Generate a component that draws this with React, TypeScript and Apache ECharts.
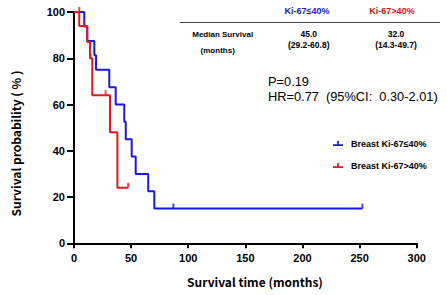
import React, { useEffect, useRef } from "react";
import * as echarts from "echarts";

// Kaplan-Meier steps: time of drop (months) and survival (%) after the drop
const blueTimes = [0, 9, 11.6, 17.8, 19.3, 30.9, 36.5, 44, 45.3, 50.5, 54, 65, 70.3, 252.5];
const blueSurv = [100, 93.75, 87.5, 81.25, 75, 67.5, 60, 52.5, 45, 37.5, 30, 22.5, 15, 15];
const redTimes = [0, 4.6, 11.6, 14, 16, 31.5, 38, 47.5];
const redSurv = [100, 94, 87, 80, 64, 48, 24, 24];

// censored observations
const blueCensorTimes = [87, 252.5];
const blueCensorSurv = [15, 15];
const redCensorTimes = [4.6, 9, 14.5, 27.7, 47.5];
const redCensorSurv = [100, 94, 80, 64, 24];

const seriesNames = ["Breast Ki-67≤40%", "Breast Ki-67>40%"];
const groupLabels = ["Ki-67≤40%", "Ki-67>40%"];
const medianValues = ["45.0", "32.0"];
const medianCIs = ["(29.2-60.8)", "(14.3-49.7)"];
const pText = "P=0.19";
const hrText = "HR=0.77  (95%CI:  0.30-2.01)";

const BLUE = "#1818e0";
const RED = "#e8161e";
const TICK_FONT = "Liberation Sans";
const TITLE_FONT = "Noto Sans CJK SC";

const legendIcon = "path://M0,4 L12,4 L12,6 L0,6 Z M5,0 L7,0 L7,4 L5,4 Z";

function zip(a: number[], b: number[]) {
  return a.map((v, i) => [v, b[i]]);
}

export default function App() {
  const ref = useRef<HTMLDivElement>(null);
  useEffect(() => {
    const chart = echarts.init(ref.current!, null, { renderer: "svg" });
    const txt = (
      text: string,
      x: number,
      y: number,
      font: string,
      fill = "#000",
      align = "center"
    ) => ({
      type: "text",
      x,
      y,
      silent: true,
      style: {
        text,
        font,
        fill,
        textAlign: align,
        align,
        textVerticalAlign: "middle",
        verticalAlign: "middle",
      },
    });
    chart.setOption({
      animation: false,
      backgroundColor: "#fff",
      grid: { left: 74, right: 30.3, top: 12, bottom: 51.7, containLabel: false },
      xAxis: {
        type: "value",
        min: 0,
        max: 300,
        interval: 50,
        axisLine: { lineStyle: { color: "#000", width: 2 } },
        axisTick: { show: true, length: 5, lineStyle: { color: "#000", width: 2 } },
        axisLabel: {
          color: "#000",
          fontFamily: TICK_FONT,
          fontWeight: "bold",
          fontSize: 11,
          margin: 9,
        },
        splitLine: { show: false },
      },
      yAxis: {
        type: "value",
        min: 0,
        max: 100,
        interval: 20,
        axisLine: { show: true, lineStyle: { color: "#000", width: 2 } },
        axisTick: { show: true, length: 7, lineStyle: { color: "#000", width: 2 } },
        axisLabel: {
          color: "#000",
          fontFamily: TICK_FONT,
          fontWeight: "bold",
          fontSize: 11,
          margin: 9,
        },
        splitLine: { show: false },
      },
      legend: {
        orient: "vertical",
        left: 328,
        top: 134,
        itemWidth: 12,
        itemHeight: 5,
        itemGap: 13,
        textStyle: {
          color: "#000",
          fontFamily: TICK_FONT,
          fontWeight: "bold",
          fontSize: 9,
          padding: [0, 0, 0, 2],
        },
        data: [
          { name: seriesNames[0], icon: legendIcon, itemStyle: { color: BLUE } },
          { name: seriesNames[1], icon: legendIcon, itemStyle: { color: RED } },
        ],
      },
      series: [
        {
          name: seriesNames[0],
          type: "line",
          step: "end",
          showSymbol: false,
          symbol: "none",
          data: zip(blueTimes, blueSurv),
          lineStyle: { color: BLUE, width: 2 },
          itemStyle: { color: BLUE },
          z: 2,
        },
        {
          name: seriesNames[1],
          type: "line",
          step: "end",
          showSymbol: false,
          symbol: "none",
          data: zip(redTimes, redSurv),
          lineStyle: { color: RED, width: 2 },
          itemStyle: { color: RED },
          z: 3,
        },
        {
          name: "blue-censor",
          type: "scatter",
          symbol: "rect",
          symbolSize: [2, 5],
          symbolOffset: [0, -2.5],
          data: zip(blueCensorTimes, blueCensorSurv),
          itemStyle: { color: BLUE },
          z: 4,
        },
        {
          name: "red-censor",
          type: "scatter",
          symbol: "rect",
          symbolSize: [2, 5],
          symbolOffset: [0, -2.5],
          data: zip(redCensorTimes, redCensorSurv),
          itemStyle: { color: RED },
          z: 4,
        },
      ],
      graphic: [
        txt(groupLabels[0], 307, 11, `bold 9px "${TICK_FONT}"`, "#1a1ad0"),
        txt(groupLabels[1], 392, 11, `bold 9px "${TICK_FONT}"`, "#e01010"),
        {
          type: "line",
          silent: true,
          shape: { x1: 180, y1: 22.5, x2: 440, y2: 22.5 },
          style: { stroke: "#444", lineWidth: 1 },
        },
        txt("Median Survival", 222.7, 34, `bold 8px "${TICK_FONT}"`),
        txt("(months)", 217.7, 50, `bold 8px "${TICK_FONT}"`),
        txt(medianValues[0], 308.7, 34, `bold 8.5px "${TICK_FONT}"`),
        txt(medianCIs[0], 308.7, 45, `bold 8.5px "${TICK_FONT}"`),
        txt(medianValues[1], 396, 34, `bold 8.5px "${TICK_FONT}"`),
        txt(medianCIs[1], 396, 45, `bold 8.5px "${TICK_FONT}"`),
        txt(pText, 268, 81, `12.8px "${TICK_FONT}"`, "#000", "left"),
        txt(hrText, 268, 96, `12.8px "${TICK_FONT}"`, "#000", "left"),
        txt("Survival time (months)", 255, 281.7, `bold 12px "${TITLE_FONT}"`),
        {
          type: "text",
          x: 15,
          y: 143.5,
          rotation: Math.PI / 2,
          silent: true,
          style: {
            text: "Survival probability ( % )",
            font: `bold 12px "${TITLE_FONT}"`,
            fill: "#000",
            textAlign: "center",
            align: "center",
            textVerticalAlign: "middle",
            verticalAlign: "middle",
          },
        },
      ],
    });
    return () => chart.dispose();
  }, []);
  return (
    <div
      ref={ref}
      style={{ position: "absolute", left: 0, top: 0, width: 447, height: 295, background: "#fff" }}
    />
  );
}
